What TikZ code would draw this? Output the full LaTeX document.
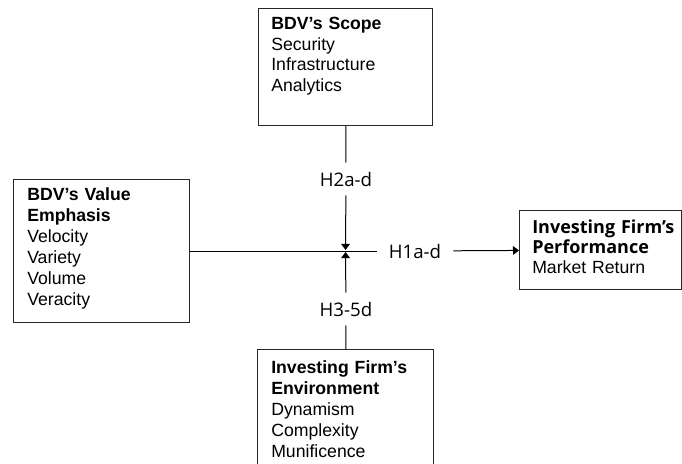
\documentclass[tikz,border=0pt]{standalone}
\usepackage{fontspec}
\setmainfont{Liberation Sans}
\newfontfamily\hypfont{Open Sans}
\usetikzlibrary{arrows.meta,positioning}

\tikzset{
  box/.style={draw=black!85, line width=0.75pt, anchor=north west, inner sep=0pt},
  boxtext/.style={anchor=base west, inner sep=0pt, text width=#1, align=left,
    font=\fontsize{13.25}{15.75}\selectfont},
  hyp/.style={inner xsep=9pt, inner ysep=0pt, minimum height=24pt,
    font=\hypfont\fontsize{14}{15}\selectfont},
  link/.style={line width=0.75pt},
  effect/.style={link, -{Triangle[length=4.5pt,width=6.5pt]}},
}

\begin{document}
\begin{tikzpicture}[x=0.75pt, y=-0.75pt]  % pixel-like grid, y grows downward
  \useasboundingbox (0,0) rectangle (682,464);
  \clip (0,0) rectangle (682,464);

  % Boxes
  \node[box, minimum width=130.5pt, minimum height=87.75pt] (scope) at (258,8) {};
  \node[box, minimum width=132pt, minimum height=107.25pt] (value) at (13,179) {};
  \node[box, minimum width=121.5pt, minimum height=59.25pt] (perf) at (519,210) {};
  \node[box, minimum width=132pt, minimum height=97.5pt] (env) at (257,349) {};

  % Box contents
  \node[boxtext=120pt] (scopetext) at (271,29)
    {\textbf{BDV’s Scope}\\Security\\Infrastructure\\Analytics};
  \node[boxtext=120pt] (valuetext) at (27,200)
    {\textbf{BDV’s Value}\\\textbf{Emphasis}\\Velocity\\Variety\\Volume\\Veracity};
  \node[boxtext=115pt, font=\fontsize{13.25}{15}\selectfont] (perftext) at (532,233)
    {{\hypfont\bfseries\fontsize{13.5}{15}\selectfont Investing Firm’s}\\
     {\hypfont\bfseries\fontsize{13.5}{15}\selectfont Performance}\\Market Return};
  \node[boxtext=125pt] (envtext) at (271,373)
    {\textbf{Investing Firm’s}\\\textbf{Environment}\\Dynamism\\Complexity\\Munificence};

  % Hypothesis labels
  \coordinate (hub) at (scope.south |- value.east);
  \node[hyp] (h2) at (346,179) {H2a-d};
  \node[hyp] (h1) at (415,251) {H1a-d};
  \node[hyp] (h3) at (346,309) {H3-5d};

  % Connectors
  \draw[link] (scope) -- (h2);
  \draw[effect] (h2) -- ([yshift=0.8pt]hub);
  \draw[link] (value.east) -- (h1.west);
  \draw[effect] (h1) -- (perf);
  \draw[link] (env) -- (h3);
  \draw[effect] (h3) -- ([yshift=-0.8pt]hub);
\end{tikzpicture}
\end{document}
